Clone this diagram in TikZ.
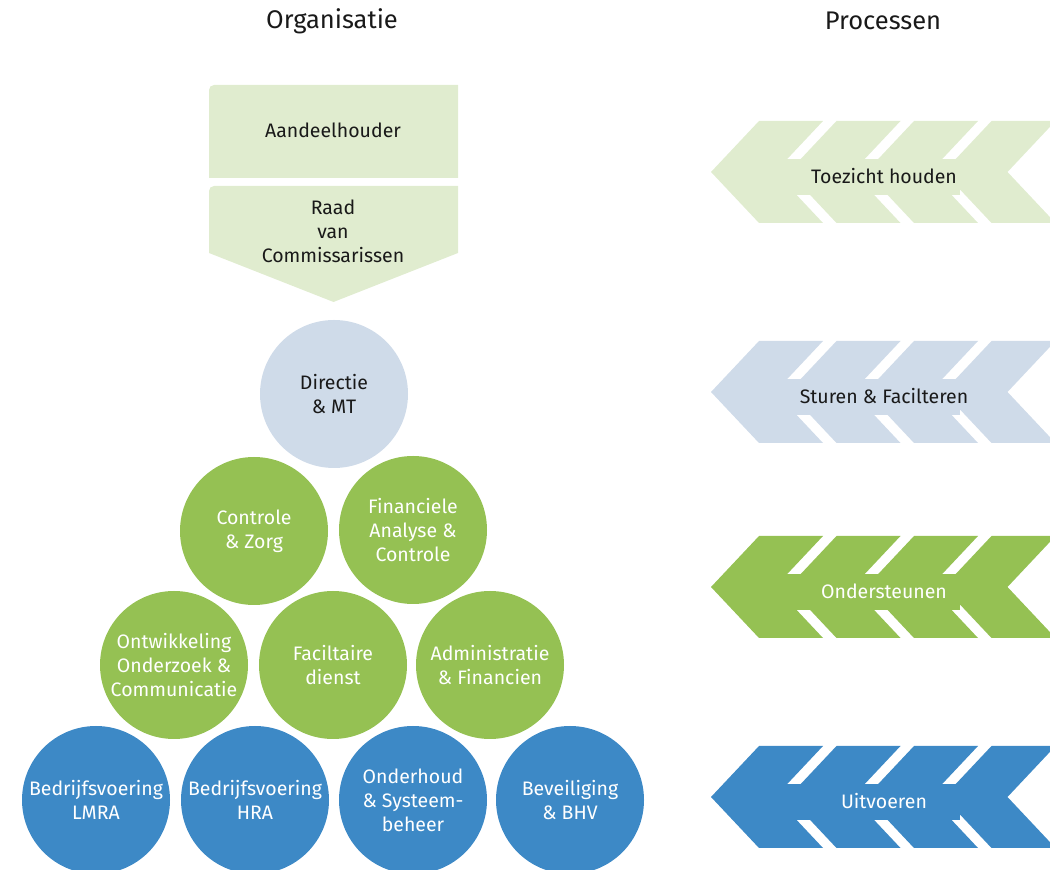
\documentclass[tikz,border=0pt]{standalone}
\usepackage{fontspec}
\setmainfont{Fira Sans}
\definecolor{lgreen}{RGB}{224,236,207}
\definecolor{lblue}{RGB}{207,219,233}
\definecolor{mgreen}{RGB}{149,193,83}
\definecolor{mblue}{RGB}{61,137,198}
\definecolor{ink}{RGB}{25,25,25}
\begin{document}
\begin{tikzpicture}[x=1pt, y=1pt,
    heading/.style={font=\fontsize{25.5}{30}\selectfont, text=ink},
    label/.style={font=\fontsize{19.5}{24}\selectfont, align=center},
    unit/.style={label, circle, minimum size=148pt, inner sep=0pt}]
  \useasboundingbox (0,0) rectangle (1050,870);
  \clip (0,0) rectangle (1050,870);

  % headings
  \node[heading] (org) at (332,849) {Organisatie};
  \node[heading] (proc) at (883,849) {Processen};

  % top of the organisation
  \fill[lgreen] (209,692) -- (209,780) arc[start angle=180, end angle=90, radius=5]
    -- (458,785) -- (458,692) -- cycle;
  \node[label, text=ink] (aandeel) at (333,740) {Aandeelhouder};
  \fill[lgreen] (209,617) -- (209,679) arc[start angle=180, end angle=90, radius=5]
    -- (458,684) -- (458,617) -- (333.5,568) -- cycle;
  \node[label, text=ink] (raad) at (333,639) {Raad\\van\\Commissarissen};

  % circles
  \node[unit, fill=lblue, text=ink] (directie) at (334,476) {Directie\\\& MT};
  \node[unit, fill=mgreen, text=white] (controle) at (254,339) {Controle\\\& Zorg};
  \node[unit, fill=mgreen, text=white] (financiele) at (413,340) {Financiele\\Analyse \&\\Controle};
  \node[unit, fill=mgreen, text=white] (ontwikkeling) at (174,205) {Ontwikkeling\\Onderzoek \&\\Communicatie};
  \node[unit, fill=mgreen, text=white] (faciltaire) at (333,205) {Faciltaire\\dienst};
  \node[unit, fill=mgreen, text=white] (administratie) at (490,205) {Administratie\\\& Financien};
  \node[unit, fill=mblue, text=white] (lmra) at (96,70) {Bedrijfsvoering\\LMRA};
  \node[unit, fill=mblue, text=white] (hra) at (255,70) {Bedrijfsvoering\\HRA};
  \node[unit, fill=mblue, text=white] (onderhoud) at (413,70) {Onderhoud\\\& Systeem-\\beheer};
  \node[unit, fill=mblue, text=white] (beveiliging) at (570,70) {Beveiliging\\\& BHV};

  % processes
  \foreach \c/\col/\tcol/\name/\txt in {698/lgreen/ink/toezicht/Toezicht houden,
      478/lblue/ink/sturen/Sturen \& Facilteren,
      283/mgreen/white/ondersteunen/Ondersteunen,
      73/mblue/white/uitvoeren/Uitvoeren} {
    \foreach \k in {0,...,3} {
      \pgfmathsetmacro\t{711+77.5*\k}
      \fill[\col] (\t,\c) -- ++(48,51) -- ++(64,0) -- ++(-48,-51)
        -- ++(48,-51) -- ++(-64,0) -- cycle;
    }
    \fill[\col] (760,\c-23) rectangle (960,\c+13);
    \node[label, text=\tcol] (\name) at (884,\c-4) {\txt};
  }
\end{tikzpicture}
\end{document}
